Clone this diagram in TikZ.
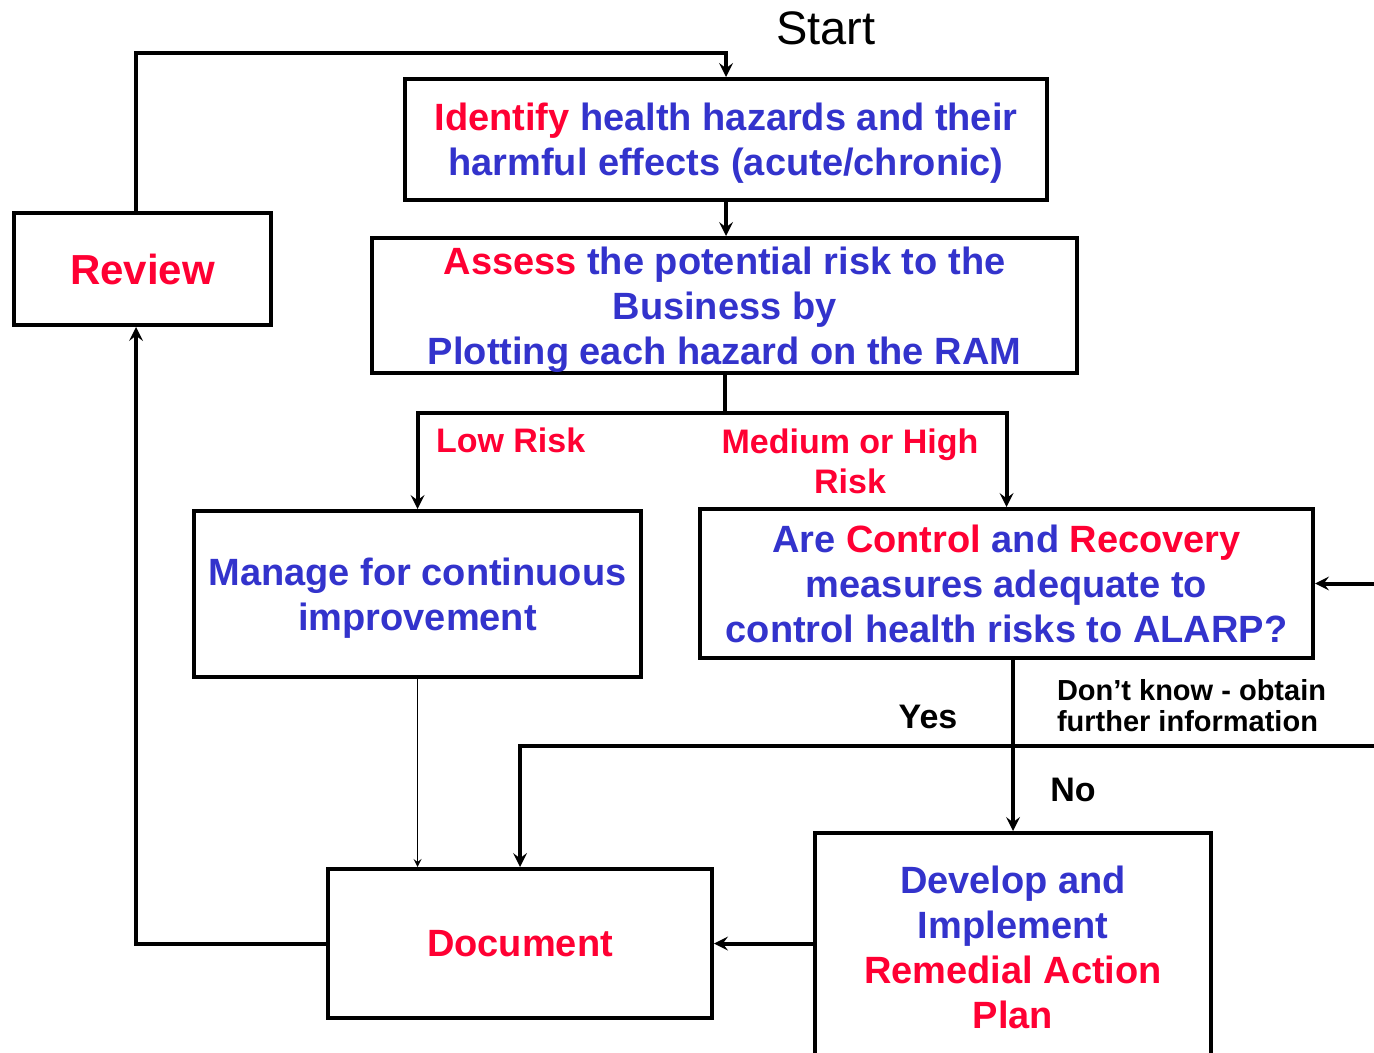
\documentclass[tikz,border=0pt]{standalone}
\usepackage{fontspec}
\setmainfont{Liberation Sans}
\usepackage{tikz}
\definecolor{hot}{RGB}{255, 0, 51}
\definecolor{cool}{RGB}{51, 51, 204}

\begin{document}
\begin{tikzpicture}[x=0.5pt, y=-0.5pt, line width=2pt, >=stealth,
  box/.style={draw, line width=2pt, rectangle, inner sep=0pt, align=center,
    text=cool, text depth=0pt, font=\fontsize{19}{22.5}\selectfont\bfseries},
  tag/.style={inner sep=0pt, align=center, font=\fontsize{17}{20}\selectfont\bfseries},
]

  \useasboundingbox (0, 0) rectangle (1374, 1053);

  \node[] (start) at (826, 28) {\fontsize{23.5}{28}\selectfont Start};

  \node[box, minimum width=321pt, minimum height=60.5pt, text depth=-1pt] (identify) at (726, 139.5)
    {\textcolor{hot}{Identify} health hazards and their\\ harmful effects (acute/chronic)};
  \node[box, minimum width=352.5pt, minimum height=67.5pt, text depth=-4pt] (assess) at (724.5, 305.5)
    {\textcolor{hot}{Assess} the potential risk to the\\ Business by\\ Plotting each hazard on the RAM};
  \node[box, minimum width=128.5pt, minimum height=56pt, text=hot,
    font=\fontsize{21}{25}\selectfont\bfseries] (review) at (142.5, 269) {Review};
  \node[box, minimum width=223.5pt, minimum height=83pt, text depth=-5pt] (manage) at (417.5, 594)
    {Manage for continuous\\ improvement};
  \node[box, minimum width=306.5pt, minimum height=74.5pt, text depth=-4pt] (control) at (1006.5, 583.5)
    {Are \textcolor{hot}{Control} and \textcolor{hot}{Recovery}\\ measures adequate to\\ control health risks to ALARP?};
  \node[box, minimum width=192pt, minimum height=74.5pt, text=hot, text depth=-6pt] (document) at (520, 943.5)
    {Document};
  \node[box, minimum width=198pt, minimum height=114pt] (develop) at (1013, 947)
    {Develop and\\ Implement\\ \textcolor{hot}{Remedial Action}\\ \textcolor{hot}{Plan}};

  % labels
  \node[tag, text=hot, anchor=west] (low) at (434, 440) {Low Risk};
  \node[tag, text=hot] (high) at (850, 461) {Medium or High\\ Risk};
  \node[tag] (yes) at (928, 717) {Yes};
  \node[tag] (no) at (1073, 790) {No};
  \node[inner sep=0pt, align=left, anchor=west,
    font=\fontsize{14.5}{15.5}\selectfont\bfseries] (dontknow) at (1055, 706)
    {Don't know - obtain\\ further information};

  \coordinate (yesend) at (1374, 746);
  \coordinate (more) at (1374, 583.5);

  % connectors
  \draw[->] ([xshift=-3.25pt]review.north) -- ++(0, -158) -| (identify.north);
  \draw[->] (identify.south) -- (identify.south |- assess.north);
  \draw[->] (assess.south) -- ++(0, 38) -| (manage.north);
  \draw[->] (assess.south) -- ++(0, 38) -| (control.north);
  \draw[->] (more) -- (control.east);
  \draw[->] (control.south -| develop.north) -- (develop.north);
  \draw[->] (yesend) -| (document.north);
  \draw[->, line width=0.75pt] (manage.south) -- (manage.south |- document.north);
  \draw[->] (develop.west |- document.east) -- (document.east);
  \draw[->] (document.west) -| ([xshift=-3.25pt]review.south);

\end{tikzpicture}
\end{document}
